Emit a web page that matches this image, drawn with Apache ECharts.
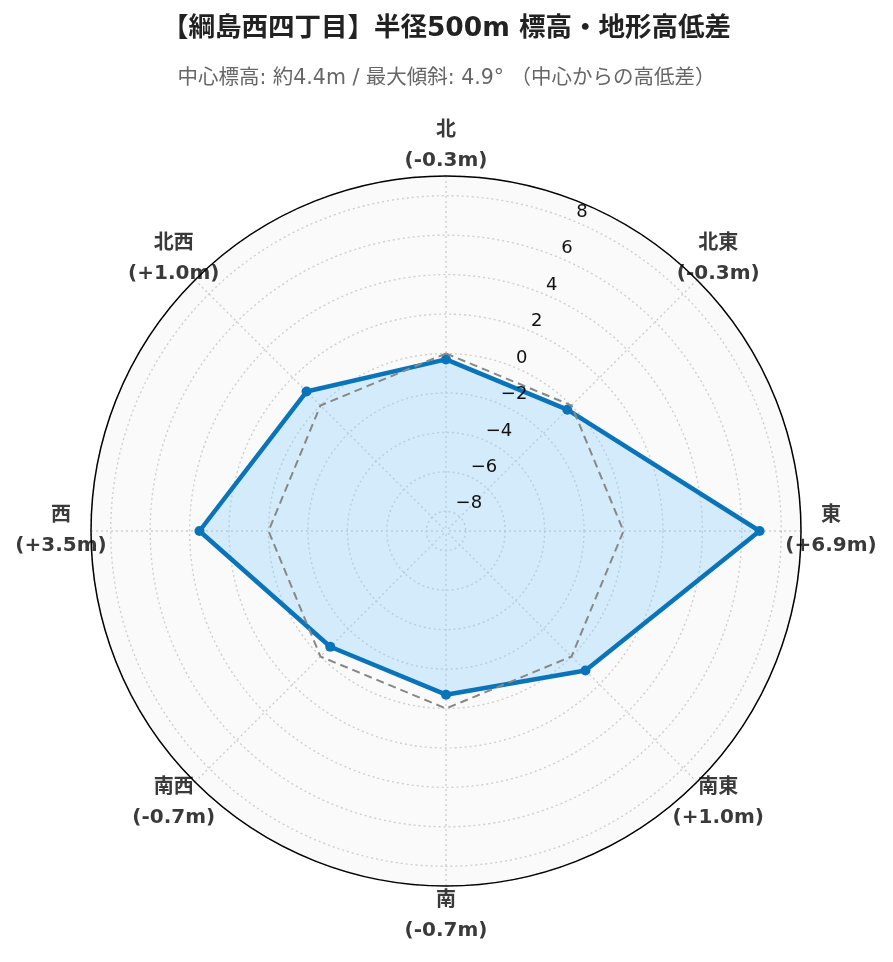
<!DOCTYPE html>
<html><head><meta charset="utf-8">
<script src="https://cdn.jsdelivr.net/npm/echarts@6/dist/echarts.min.js"></script>
<style>html,body{margin:0;padding:0;background:#fff}#chart{width:893px;height:962px}</style>
</head><body><div id="chart"></div>
<script>
const directions = ['北','北東','東','南東','南','南西','西','北西'];
const elevationDiffs = [-0.3, -0.3, 6.9, 1.0, -0.7, -0.7, 3.5, 1.0];
const zeroReference = [0, 0, 0, 0, 0, 0, 0, 0];
const radialTicks = [-8, -6, -4, -2, 0, 2, 4, 6, 8];
const radialMin = -9, radialMax = 9;
const titleText = '【綱島西四丁目】半径500m 標高・地形高低差';
const subtitleText = '中心標高: 約4.4m / 最大傾斜: 4.9° （中心からの高低差）';

const FONT = "'DejaVu Sans', 'Noto Sans CJK JP', sans-serif";
const CENTER = [446, 531];
const R = 355;
const LINE_BLUE = '#0a74bb';
const GRID = {color: '#cfcfcf', type: [2, 3], width: 1.4};

// radar lays indicators out counterclockwise from north
const radarOrder = [0, 7, 6, 5, 4, 3, 2, 1];
// grid angle axis starts at NE so the radial axis sits between N and NE
const gridCats = directions.slice(1).concat(directions.slice(0, 1));

function fmtDiff(v) { return (v > 0 ? '+' : (v < 0 ? '-' : '')) + Math.abs(v).toFixed(1); }

const radarValues = radarOrder.map(function (i) { return elevationDiffs[i]; });
const radarZero = radarOrder.map(function (i) { return zeroReference[i]; });

const chart = echarts.init(document.getElementById('chart'), null, {renderer: 'canvas'});
chart.setOption({
  animation: false,
  backgroundColor: '#fff',
  title: [
    {text: titleText, left: 'center', top: 11,
     textStyle: {fontSize: 26.5, fontWeight: 'bold', color: '#222', fontFamily: FONT}},
    {text: subtitleText, left: 'center', top: 63,
     textStyle: {fontSize: 20.5, fontWeight: 'normal', color: '#666', fontFamily: FONT}}
  ],
  polar: [
    {center: CENTER, radius: R},
    {center: CENTER, radius: 385},
    {center: CENTER, radius: R}
  ],
  angleAxis: [
    // background disc
    {polarIndex: 0, type: 'category', data: gridCats, startAngle: 67.5, clockwise: true, boundaryGap: true, z: 0,
     axisLine: {show: false}, axisTick: {show: false, alignWithLabel: true}, axisLabel: {show: false},
     splitLine: {show: false},
     splitArea: {show: true, areaStyle: {color: ['#fafafa']}}},
    // direction labels
    {polarIndex: 1, type: 'category', data: directions, startAngle: 112.5, clockwise: true, boundaryGap: true, show: false},
    // outer circle + spokes
    {polarIndex: 2, type: 'category', data: gridCats, startAngle: 67.5, clockwise: true, boundaryGap: true, z: 3,
     axisLine: {show: true, lineStyle: {color: '#000', width: 1.5}},
     axisTick: {show: false, alignWithLabel: true}, axisLabel: {show: false},
     splitLine: {show: true, lineStyle: GRID}}
  ],
  radiusAxis: [
    // concentric grid circles
    {polarIndex: 0, type: 'value', min: radialMin, max: radialMax, splitNumber: 9, z: 1,
     axisLine: {show: false}, axisTick: {show: false}, axisLabel: {show: false},
     splitLine: {show: true, lineStyle: GRID}, splitArea: {show: false}},
    {polarIndex: 1, type: 'value', min: 0, max: 1, show: false},
    // radial tick labels
    {polarIndex: 2, type: 'value', min: radialMin, max: radialMax, splitNumber: 9, z: 7,
     axisLine: {show: false}, axisTick: {show: false}, splitLine: {show: false}, splitArea: {show: false},
     axisLabel: {
       formatter: function (v) { return radialTicks.indexOf(v) >= 0 ? String(v).replace('-', '\u2212') : ''; },
       color: '#111', fontSize: 18, fontFamily: FONT, margin: 0, align: 'left', verticalAlign: 'bottom',
       padding: [0, 0, 0, 2]
     }}
  ],
  radar: {
    center: CENTER, radius: R, startAngle: 90, shape: 'circle',
    indicator: radarOrder.map(function (i) { return {name: directions[i], min: radialMin, max: radialMax}; }),
    axisName: {show: false}, axisLine: {show: false}, splitLine: {show: false}, splitArea: {show: false},
    axisTick: {show: false}, axisLabel: {show: false}
  },
  series: [
    {type: 'scatter', coordinateSystem: 'polar', polarIndex: 1, z: 2, silent: true,
     symbolSize: 1, itemStyle: {color: 'rgba(0,0,0,0)'},
     data: directions.map(function (d) { return [1, d]; }),
     label: {show: true, position: 'inside', color: '#3a3a3a', opacity: 1, fontSize: 20, fontWeight: 'bold', lineHeight: 30,
             fontFamily: FONT, textBorderWidth: 0,
             formatter: function (p) { return directions[p.dataIndex] + '\n(' + fmtDiff(elevationDiffs[p.dataIndex]) + 'm)'; }}},
    // fill
    {type: 'radar', z: 4, symbol: 'none', silent: true,
     lineStyle: {width: 0, opacity: 0},
     areaStyle: {color: 'rgba(135,206,250,0.34)', opacity: 1},
     data: [{value: radarValues}]},
    // outline + markers
    {type: 'radar', z: 5, symbol: 'circle', symbolSize: 10,
     lineStyle: {color: LINE_BLUE, width: 4.5},
     itemStyle: {color: LINE_BLUE},
     data: [{value: radarValues}]},
    // zero reference
    {type: 'radar', z: 6, symbol: 'none',
     lineStyle: {color: '#888', width: 2, type: [8, 5]},
     data: [{value: radarZero}]}
  ]
});
</script></body></html>
